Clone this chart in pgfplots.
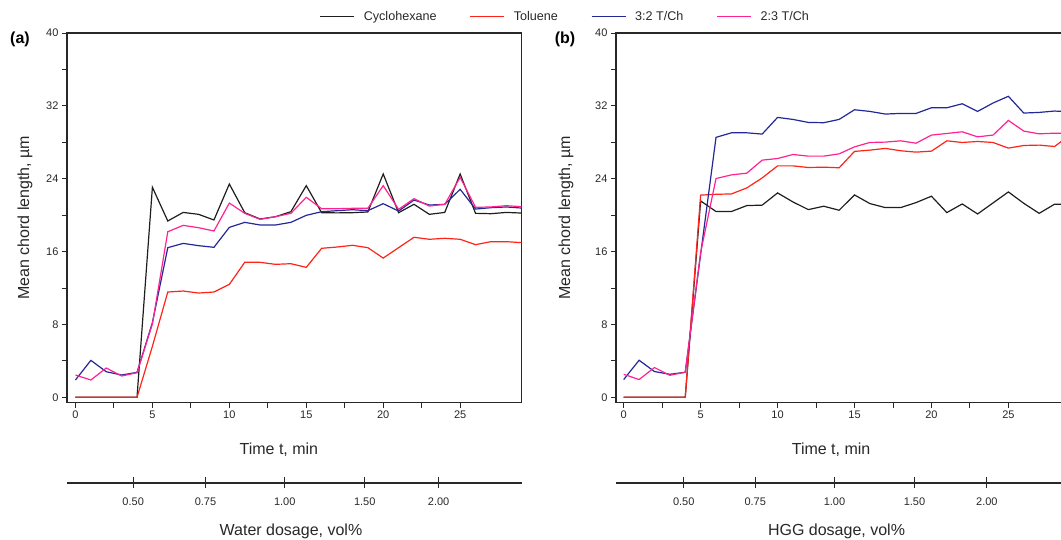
\documentclass[border=0pt]{standalone}
\usepackage{pgfplots}
\pgfplotsset{compat=1.18}
\usepackage{pgfplotstable}
\usepackage{fontspec}
\setmainfont{Liberation Sans}

\definecolor{txt}{RGB}{40,40,40}
\definecolor{cblack}{RGB}{30,30,30}
\definecolor{cred}{RGB}{255,35,25}
\definecolor{cblue}{RGB}{35,40,150}
\definecolor{cpink}{RGB}{255,35,145}

\newcommand\ticksize{\fontsize{11}{13}\selectfont}
\newcommand\labelsize{\fontsize{16}{19}\selectfont}

% chord length vs time, panel (a): water
\pgfplotstableread{
t   ch     tol    bb     pp
0   0      0      1.90   2.45
1   0      0      4.06   1.90
2   0      0      2.81   3.22
3   0      0      2.45   2.34
4   0      0      2.74   2.70
5   23.06  5.60   8.20   8.05
6   19.36  11.56  16.43  18.18
7   20.30  11.67  16.90  18.88
8   20.09  11.45  16.65  18.62
9   19.47  11.56  16.47  18.26
10  23.42  12.40  18.66  21.33
11  20.27  14.82  19.21  20.20
12  19.58  14.82  18.92  19.54
13  19.83  14.60  18.92  19.83
14  20.38  14.67  19.21  20.20
15  23.24  14.27  19.98  21.96
16  20.27  16.36  20.38  20.71
17  20.25  16.50  20.49  20.71
18  20.27  16.69  20.60  20.75
19  20.35  16.43  20.49  20.75
20  24.52  15.29  21.26  23.24
21  20.27  16.43  20.45  20.64
22  21.19  17.57  21.66  21.81
23  20.09  17.35  21.11  21.00
24  20.30  17.46  21.19  21.19
25  24.52  17.35  22.84  24.15
26  20.20  16.76  20.67  20.86
27  20.16  17.09  20.82  20.90
28  20.30  17.09  20.90  21.04
29  20.23  16.98  20.78  20.93
}\waterdata

% panel (b): HGG
\pgfplotstableread{
t   ch     tol    bb     pp
0   0      0      1.95   2.53
1   0      0      4.07   1.95
2   0      0      2.83   3.27
3   0      0      2.53   2.42
4   0      0      2.75   2.75
5   21.56  22.20  15.70  15.90
6   20.40  22.29  28.54  24.02
7   20.40  22.33  29.04  24.42
8   21.05  22.99  29.04  24.61
9   21.10  24.09  28.90  26.04
10  22.44  25.41  30.73  26.22
11  21.45  25.41  30.51  26.66
12  20.61  25.23  30.18  26.48
13  20.98  25.27  30.15  26.48
14  20.54  25.20  30.51  26.73
15  22.22  27.00  31.57  27.50
16  21.27  27.14  31.39  27.98
17  20.83  27.33  31.10  28.02
18  20.83  27.07  31.17  28.16
19  21.38  26.92  31.17  27.90
20  22.08  27.03  31.79  28.79
21  20.28  28.16  31.79  28.97
22  21.23  27.98  32.23  29.15
23  20.13  28.09  31.39  28.60
24  21.34  27.98  32.31  28.79
25  22.55  27.36  33.05  30.40
26  21.30  27.65  31.21  29.23
27  20.20  27.69  31.28  28.93
28  21.20  27.54  31.43  29.00
29  21.20  28.80  31.35  29.00
}\hggdata

\pgfplotsset{
  panel/.style={
    scale only axis, width=454.7pt, height=369.7pt, anchor=south west,
    xmin=-0.55, xmax=29, ymin=-0.59, ymax=40,
    ytick={0,8,...,40}, minor y tick num=1,
    xtick={0,5,...,25}, minor x tick num=1,
    tick align=outside, xtick pos=left, ytick pos=left,
    major tick length=5pt, minor tick length=5pt,
    tick style={line width=0.9pt, color=txt},
    axis line style={line width=1.1pt, color=txt},
    every axis plot/.append style={line width=1.2pt},
    ticklabel style={font=\ticksize, color=txt},
    /pgf/number format/assume math mode=true,
    label style={font=\labelsize, color=txt},
    ylabel={Mean chord length, µm},
    xlabel={Time t, min},
  },
  dose/.style={
    scale only axis, width=454.7pt, height=10pt, anchor=south west,
    xmin=-0.55, xmax=29, ymin=0, ymax=1,
    axis x line=bottom, axis y line=none,
    axis line style={-, line width=1.1pt, color=txt},
    xtick={3.75,8.45,13.6,18.8,23.6},
    xticklabels={0.50,0.75,1.00,1.50,2.00},
    xtick align=center, major tick length=11pt,
    tick style={line width=0.9pt, color=txt},
    ticklabel style={font=\ticksize, color=txt},
    xticklabel style={yshift=-6pt},
    label style={font=\labelsize, color=txt},
  },
}

\begin{document}
\begin{tikzpicture}
% (a) water
\begin{axis}[panel, at={(67pt,137.3pt)},
  xlabel style={at={(axis description cs:0.466,-0.128)}, anchor=center},
  ylabel style={at={(axis description cs:-0.0924,0.5)}, anchor=center},
  legend columns=4,
  legend image code/.code={\draw[#1] (0pt,0pt) -- (34pt,0pt);},
  legend style={draw=none, fill=none, inner sep=0pt,
    at={(axis description cs:0.555,1.044)}, anchor=west,
    font=\fontsize{12.6}{15}\selectfont, text=txt,
    /tikz/every odd column/.append style={column sep=7pt},
    /tikz/every even column/.append style={column sep=31pt}},
]
\addplot[cblack, line width=1.2pt] table[x=t, y=ch] {\waterdata};
\addlegendentry{Cyclohexane}
\addplot[cred, line width=1.2pt] table[x=t, y=tol] {\waterdata};
\addlegendentry{Toluene}
\addplot[cblue, line width=1.2pt] table[x=t, y=bb] {\waterdata};
\addlegendentry{3:2 T/Ch}
\addplot[cpink, line width=1.2pt] table[x=t, y=pp] {\waterdata};
\addlegendentry{2:3 T/Ch}
\end{axis}
\begin{axis}[dose, at={(67pt,57pt)}, xlabel={Water dosage, vol\%},
  xlabel style={at={(axis description cs:0.4926,-4.8)}, anchor=center}]
\end{axis}

% (b) HGG
\begin{axis}[panel, at={(616pt,137.3pt)}, xmin=-0.5, xmax=29.05,
  xlabel style={at={(axis description cs:0.473,-0.128)}, anchor=center},
  ylabel style={at={(axis description cs:-0.110,0.5)}, anchor=center},
]
\addplot[cblack, line width=1.2pt] table[x=t, y=ch] {\hggdata};
\addplot[cred, line width=1.2pt] table[x=t, y=tol] {\hggdata};
\addplot[cblue, line width=1.2pt] table[x=t, y=bb] {\hggdata};
\addplot[cpink, line width=1.2pt] table[x=t, y=pp] {\hggdata};
\end{axis}
\begin{axis}[dose, at={(616pt,57pt)}, xmin=-0.5, xmax=29.05,
  xtick={3.9,8.55,13.7,18.9,23.6},
  xlabel={HGG dosage, vol\%},
  xlabel style={at={(axis description cs:0.485,-4.8)}, anchor=center}]
\end{axis}

\node[font=\bfseries\fontsize{16}{19}\selectfont] at (20pt,501pt) {(a)};
\node[font=\bfseries\fontsize{16}{19}\selectfont] at (565pt,501pt) {(b)};

\pgfresetboundingbox
\path[use as bounding box] (0,0) rectangle (1061pt,540pt);
\end{tikzpicture}
\end{document}
